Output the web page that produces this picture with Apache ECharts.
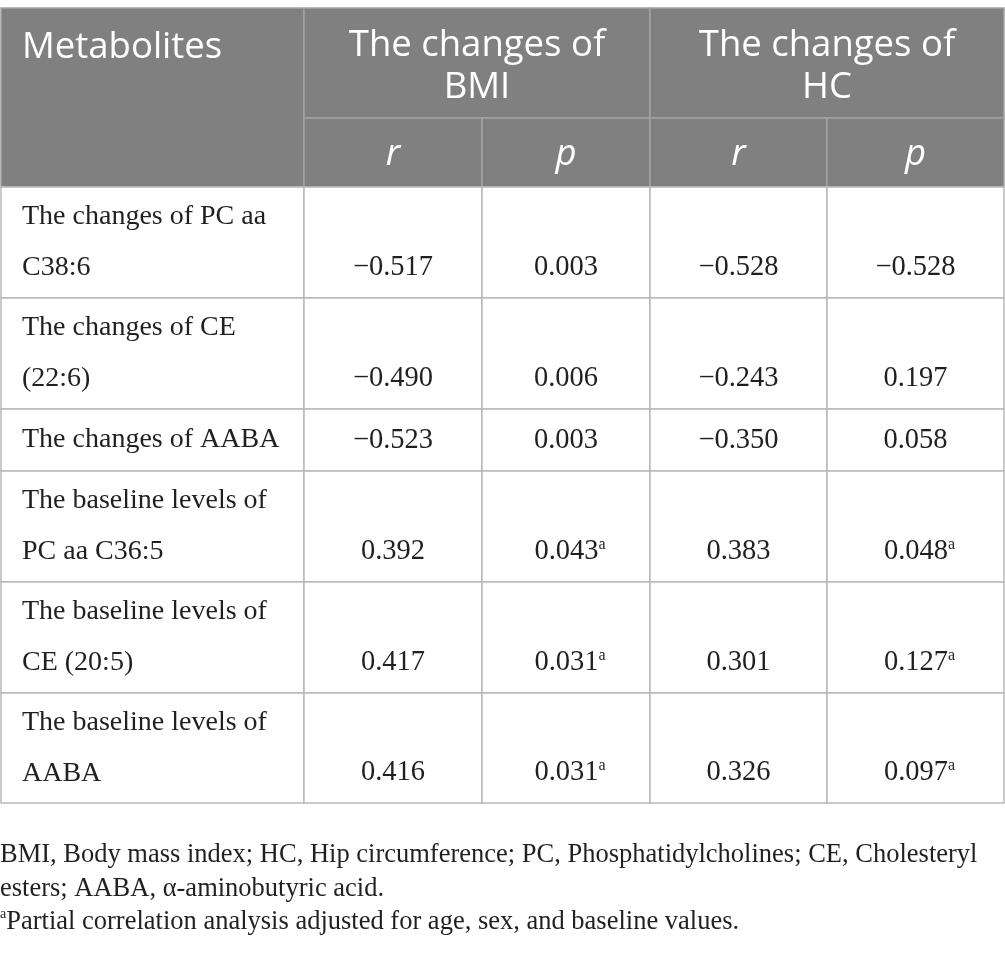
<!DOCTYPE html>
<html>
<head>
<meta charset="utf-8">
<script src="https://cdn.jsdelivr.net/npm/echarts@6/dist/echarts.min.js"></script>
<style>
html, body { margin: 0; padding: 0; background: #fff; }
#main { width: 1005px; height: 962px; }
</style>
</head>
<body>
<div id="main"></div>
<script>
// 表格数据
const metabolites = [
    'The changes of PC aa\nC38:6',
    'The changes of CE\n(22:6)',
    'The changes of AABA',
    'The baseline levels of\nPC aa C36:5',
    'The baseline levels of\nCE (20:5)',
    'The baseline levels of\nAABA'
];
const firstHeader = 'Metabolites';
const groupHeaders = ['The changes of\nBMI', 'The changes of\nHC'];
const subHeaders = ['r', 'p', 'r', 'p'];
const bmiR = [-0.517, -0.490, -0.523, 0.392, 0.417, 0.416];
const bmiP = [0.003, 0.006, 0.003, 0.043, 0.031, 0.031];
const hcR = [-0.528, -0.243, -0.350, 0.383, 0.301, 0.326];
const hcP = [-0.528, 0.197, 0.058, 0.048, 0.127, 0.097];
const partialMark = [false, false, false, true, true, true];
const footnotes = [
    'BMI, Body mass index; HC, Hip circumference; PC, Phosphatidylcholines; CE, Cholesteryl',
    'esters; AABA, \u03b1-aminobutyric acid.',
    'Partial correlation analysis adjusted for age, sex, and baseline values.'
];

// 版式
const colEdges = [1, 304, 482, 650, 827, 1004];
const headTop = 8, headMid = 118, headBottom = 187;
const rowHeights = [111, 111, 62, 111, 111, 110];
const sansFont = '"Open Sans", sans-serif';
const serifFont = '"Liberation Serif", "DejaVu Serif", serif';
const headBg = '#808080', headLine = '#a2a2a2', bodyLine = '#b9b9b9', ink = '#231f20';

function fmt(v) {
    return (v < 0 ? '\u2212' : '') + Math.abs(v).toFixed(3);
}

// 生成单元格
let cells = [];
cells.push({ x0: colEdges[0], x1: colEdges[1], y0: headTop, y1: headBottom, kind: 'headLeft', text: firstHeader });
groupHeaders.forEach((g, i) => {
    cells.push({ x0: colEdges[1 + 2 * i], x1: colEdges[3 + 2 * i], y0: headTop, y1: headMid, kind: 'group', text: g });
});
subHeaders.forEach((s, j) => {
    cells.push({ x0: colEdges[1 + j], x1: colEdges[2 + j], y0: headMid, y1: headBottom, kind: 'sub', text: s });
});
let y = headBottom;
metabolites.forEach((m, i) => {
    let y1 = y + rowHeights[i];
    cells.push({ x0: colEdges[0], x1: colEdges[1], y0: y, y1: y1, kind: 'label', text: m });
    [bmiR[i], bmiP[i], hcR[i], hcP[i]].forEach((v, j) => {
        let sup = partialMark[i] && (j === 1 || j === 3);
        cells.push({ x0: colEdges[1 + j], x1: colEdges[2 + j], y0: y, y1: y1, kind: 'value', text: fmt(v), sup: sup });
    });
    y = y1;
});

function renderCell(params, api) {
    let c = cells[params.dataIndex];
    let p0 = api.coord([api.value(0), api.value(1)]);
    let p1 = api.coord([api.value(2), api.value(3)]);
    let head = c.kind === 'headLeft' || c.kind === 'group' || c.kind === 'sub';
    let rect = {
        type: 'rect',
        shape: { x: p0[0], y: p0[1], width: p1[0] - p0[0], height: p1[1] - p0[1] },
        style: { fill: head ? headBg : '#fff', stroke: head ? headLine : bodyLine, lineWidth: 1.5 }
    };
    let ts;
    if (c.kind === 'headLeft') {
        ts = { text: c.text, x: p0[0] + 21, y: p0[1] + 40, align: 'left', verticalAlign: 'middle',
               fontSize: 36.5, fontFamily: sansFont, fill: '#fff' };
    } else if (c.kind === 'group') {
        ts = { text: c.text, x: (p0[0] + p1[0]) / 2, y: (p0[1] + p1[1]) / 2 + 4, align: 'center', verticalAlign: 'middle',
               fontSize: 36.5, fontFamily: sansFont, fill: '#fff', lineHeight: 42 };
    } else if (c.kind === 'sub') {
        ts = { text: c.text, x: (p0[0] + p1[0]) / 2, y: (p0[1] + p1[1]) / 2 + 2, align: 'center', verticalAlign: 'middle',
               fontSize: 36.5, fontStyle: 'italic', fontFamily: sansFont, fill: '#fff' };
    } else if (c.kind === 'label') {
        ts = { text: c.text, x: p0[0] + 21, y: (p0[1] + p1[1]) / 2, align: 'left', verticalAlign: 'middle',
               fontSize: 28, fontFamily: serifFont, fill: ink, lineHeight: 51 };
    } else {
        ts = { text: c.sup ? '{v|' + c.text + '}{s|a}' : c.text, x: (p0[0] + p1[0]) / 2 + (c.sup ? 4 : 0), y: p1[1] - 30,
               align: 'center', verticalAlign: 'middle', fontSize: 28.5, fontFamily: serifFont, fill: ink,
               rich: {
                   v: { fontSize: 28.5, fontFamily: serifFont, fill: ink, lineHeight: 30 },
                   s: { fontSize: 16, fontFamily: serifFont, fill: ink, lineHeight: 18, verticalAlign: 'top' }
               } };
    }
    return { type: 'group', children: [rect, { type: 'text', style: ts }] };
}

let chart = echarts.init(document.getElementById('main'));
let option = {
    animation: false,
    grid: { left: 0, right: 0, top: 0, bottom: 0 },
    xAxis: { type: 'value', min: 0, max: 1005, show: false },
    yAxis: { type: 'value', min: 0, max: 962, inverse: true, show: false },
    graphic: [
        { type: 'text', x: 0, y: 855, style: { text: footnotes[0], verticalAlign: 'middle', fontSize: 26.5, fontFamily: serifFont, fill: ink } },
        { type: 'text', x: 0, y: 889, style: { text: footnotes[1], verticalAlign: 'middle', fontSize: 26.5, fontFamily: serifFont, fill: ink } },
        { type: 'text', x: 0, y: 922, style: {
            text: '{s|a}{v|' + footnotes[2] + '}', verticalAlign: 'middle', fontFamily: serifFont, fill: ink,
            rich: {
                v: { fontSize: 26.5, fontFamily: serifFont, fill: ink, lineHeight: 30 },
                s: { fontSize: 14, fontFamily: serifFont, fill: ink, lineHeight: 17, verticalAlign: 'top' }
            } } }
    ],
    series: [{
        type: 'custom',
        renderItem: renderCell,
        data: cells.map(c => [c.x0, c.y0, c.x1, c.y1]),
        encode: { x: [0, 2], y: [1, 3] },
        silent: true
    }]
};
chart.setOption(option);
</script>
</body>
</html>
